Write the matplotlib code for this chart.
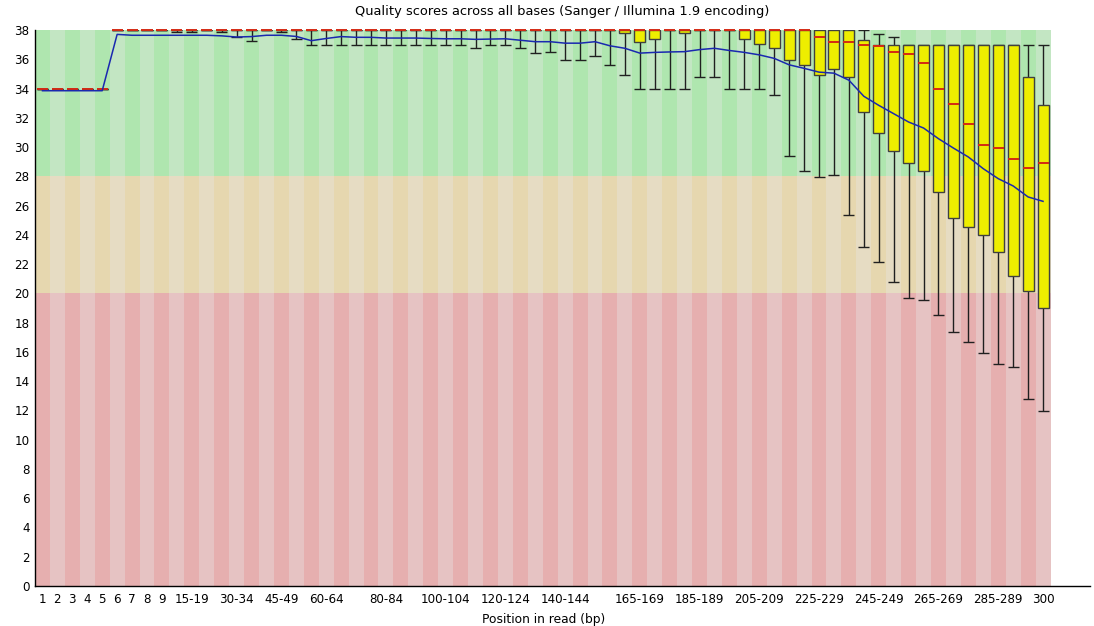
import matplotlib
matplotlib.use('Agg')
import matplotlib.pyplot as plt
from matplotlib.patches import Rectangle

# Base groups (FastQC style: 1-9 single, then 5bp bins, then 300)
groups = ['1', '2', '3', '4', '5', '6', '7', '8', '9',
          '10-14', '15-19', '20-24', '25-29', '30-34', '35-39', '40-44', '45-49',
          '50-54', '55-59', '60-64', '65-69', '70-74', '75-79', '80-84', '85-89',
          '90-94', '95-99', '100-104', '105-109', '110-114', '115-119', '120-124',
          '125-129', '130-134', '135-139', '140-144', '145-149', '150-154', '155-159',
          '160-164', '165-169', '170-174', '175-179', '180-184', '185-189', '190-194',
          '195-199', '200-204', '205-209', '210-214', '215-219', '220-224', '225-229',
          '230-234', '235-239', '240-244', '245-249', '250-254', '255-259', '260-264',
          '265-269', '270-274', '275-279', '280-284', '285-289', '290-294', '295-299',
          '300']

shown_labels = ['1', '2', '3', '4', '5', '6', '7', '8', '9', '15-19', '30-34', '45-49',
                '60-64', '80-84', '100-104', '120-124', '140-144', '165-169', '185-189',
                '205-209', '225-229', '245-249', '265-269', '285-289', '300']

mean_q = [33.85, 33.85, 33.85, 33.85, 33.85, 37.70, 37.64, 37.64, 37.64, 37.64,
          37.64, 37.64, 37.60, 37.52, 37.55, 37.64, 37.64, 37.56, 37.27, 37.42,
          37.55, 37.50, 37.50, 37.45, 37.45, 37.45, 37.42, 37.40, 37.40, 37.36,
          37.38, 37.40, 37.30, 37.20, 37.20, 37.10, 37.10, 37.20, 36.92, 36.75,
          36.42, 36.47, 36.50, 36.52, 36.66, 36.75, 36.60, 36.47, 36.30, 36.06,
          35.62, 35.38, 35.12, 35.05, 34.57, 33.47, 32.85, 32.28, 31.71, 31.30,
          30.57, 29.93, 29.32, 28.52, 27.84, 27.34, 26.59, 26.29]

median_q = [34, 34, 34, 34, 34, 38, 38, 38, 38, 38,
            38, 38, 38, 38, 38, 38, 38, 38, 38, 38,
            38, 38, 38, 38, 38, 38, 38, 38, 38, 38,
            38, 38, 38, 38, 38, 38, 38, 38, 38, 38,
            38, 38, 38, 38, 38, 38, 38, 38, 38, 38,
            38, 38, 37.54, 37.2, 37.2, 36.95, 36.9, 36.5, 36.36, 35.72,
            34.0, 32.96, 31.55, 30.16, 29.93, 29.18, 28.59, 28.91]

upper_q = [34, 34, 34, 34, 34, 38, 38, 38, 38, 38,
           38, 38, 38, 38, 38, 38, 38, 38, 38, 38,
           38, 38, 38, 38, 38, 38, 38, 38, 38, 38,
           38, 38, 38, 38, 38, 38, 38, 38, 38, 38,
           38, 38, 38, 38, 38, 38, 38, 38, 38, 38,
           38, 38, 38, 38, 38, 37.3, 37, 37, 37, 37,
           37, 37, 37, 37, 37, 37, 34.8, 32.9]

lower_q = [34, 34, 34, 34, 34, 38, 38, 38, 38, 38,
           38, 38, 38, 38, 38, 38, 38, 38, 38, 38,
           38, 38, 38, 38, 38, 38, 38, 38, 38, 38,
           38, 38, 38, 38, 38, 38, 38, 38, 38, 37.82,
           37.2, 37.36, 38, 37.82, 38, 38, 38, 37.36, 37.02, 36.75,
           35.96, 35.59, 34.95, 35.36, 34.79, 32.4, 30.98, 29.75, 28.93, 28.34,
           26.95, 25.13, 24.53, 23.97, 22.8, 21.19, 20.18, 19.0]

p90 = [34, 34, 34, 34, 34, 38, 38, 38, 38, 38,
       38, 38, 38, 38, 38, 38, 38, 38, 38, 38,
       38, 38, 38, 38, 38, 38, 38, 38, 38, 38,
       38, 38, 38, 38, 38, 38, 38, 38, 38, 38,
       38, 38, 38, 38, 38, 38, 38, 38, 38, 38,
       38, 38, 38, 38, 38, 38, 37.75, 37.55, 37, 37,
       37, 37, 37, 37, 37, 37, 37, 37]

p10 = [34, 34, 34, 34, 34, 38, 38, 38, 38, 37.86,
       37.86, 38, 37.86, 37.52, 37.23, 38, 37.86, 37.36, 37.0, 37.0,
       37, 37, 37, 37, 37, 37, 37, 37, 37, 36.75,
       37, 37, 36.75, 36.4, 36.52, 35.96, 35.96, 36.19, 35.6, 34.93,
       34, 34, 34, 34, 34.77, 34.77, 34, 34, 34, 33.56,
       29.37, 28.34, 27.97, 28.11, 25.35, 23.14, 22.14, 20.75, 19.7, 19.57,
       18.54, 17.38, 16.69, 15.92, 15.19, 14.96, 12.78, 11.96]

# quality zones: (low, high, light colour, dark colour)
zones = [(0, 20, '#E6C3C3', '#E6AFAF'),
         (20, 28, '#E6DCC3', '#E6D7AF'),
         (28, 38, '#C3E6C3', '#AFE6AF')]

fig = plt.figure(figsize=(10.94, 6.26), dpi=100)
ax = fig.add_axes([35 / 1094, 1 - 586 / 626, (1090 - 35) / 1094, (586 - 30) / 626])

n = len(groups)

# striped background
for i in range(n):
    for lo, hi, light, dark in zones:
        ax.add_patch(Rectangle((i, lo), 1, hi - lo,
                               facecolor=dark if i % 2 == 0 else light,
                               edgecolor='none', zorder=0))

bw = 0.74
for i in range(n):
    xc = i + 0.5
    # whiskers
    ax.vlines(xc, p10[i], p90[i], color='#202020', lw=1, zorder=3)
    ax.hlines([p10[i], p90[i]], xc - bw / 2, xc + bw / 2, color='#202020', lw=1, zorder=3)
    # box
    ax.add_patch(Rectangle((xc - bw / 2, lower_q[i]), bw, upper_q[i] - lower_q[i],
                           facecolor='#EEEE00', edgecolor='#404040', lw=1, zorder=4))
    # median
    ax.hlines(median_q[i], xc - bw / 2, xc + bw / 2, color='#D42A14', lw=1.4,
              zorder=5, clip_on=False)

# mean line
ax.plot([i + 0.5 for i in range(n)], mean_q, color='#1a28b0', lw=1.1, zorder=6)

ax.set_xlim(0, n * (1090 - 35) / (1051 - 35.5))
ax.set_ylim(0, 38)

ax.set_xticks([groups.index(l) + 0.5 for l in shown_labels])
ax.set_xticklabels(shown_labels)
ax.set_yticks(range(0, 39, 2))
ax.tick_params(axis='both', length=0, labelsize=8.6, colors='black')
ax.tick_params(axis='x', pad=5)
ax.tick_params(axis='y', pad=4)

for s in ['top', 'right']:
    ax.spines[s].set_visible(False)
for s in ['left', 'bottom']:
    ax.spines[s].set_color('black')
    ax.spines[s].set_linewidth(1)

fig.text(562 / 1094, 1 - 12 / 626, 'Quality scores across all bases (Sanger / Illumina 1.9 encoding)',
         ha='center', va='center', fontsize=9.4)
fig.text(544 / 1094, 1 - 619 / 626, 'Position in read (bp)', ha='center', va='center', fontsize=8.8)

fig.savefig('out.png', dpi=100, facecolor='white')
